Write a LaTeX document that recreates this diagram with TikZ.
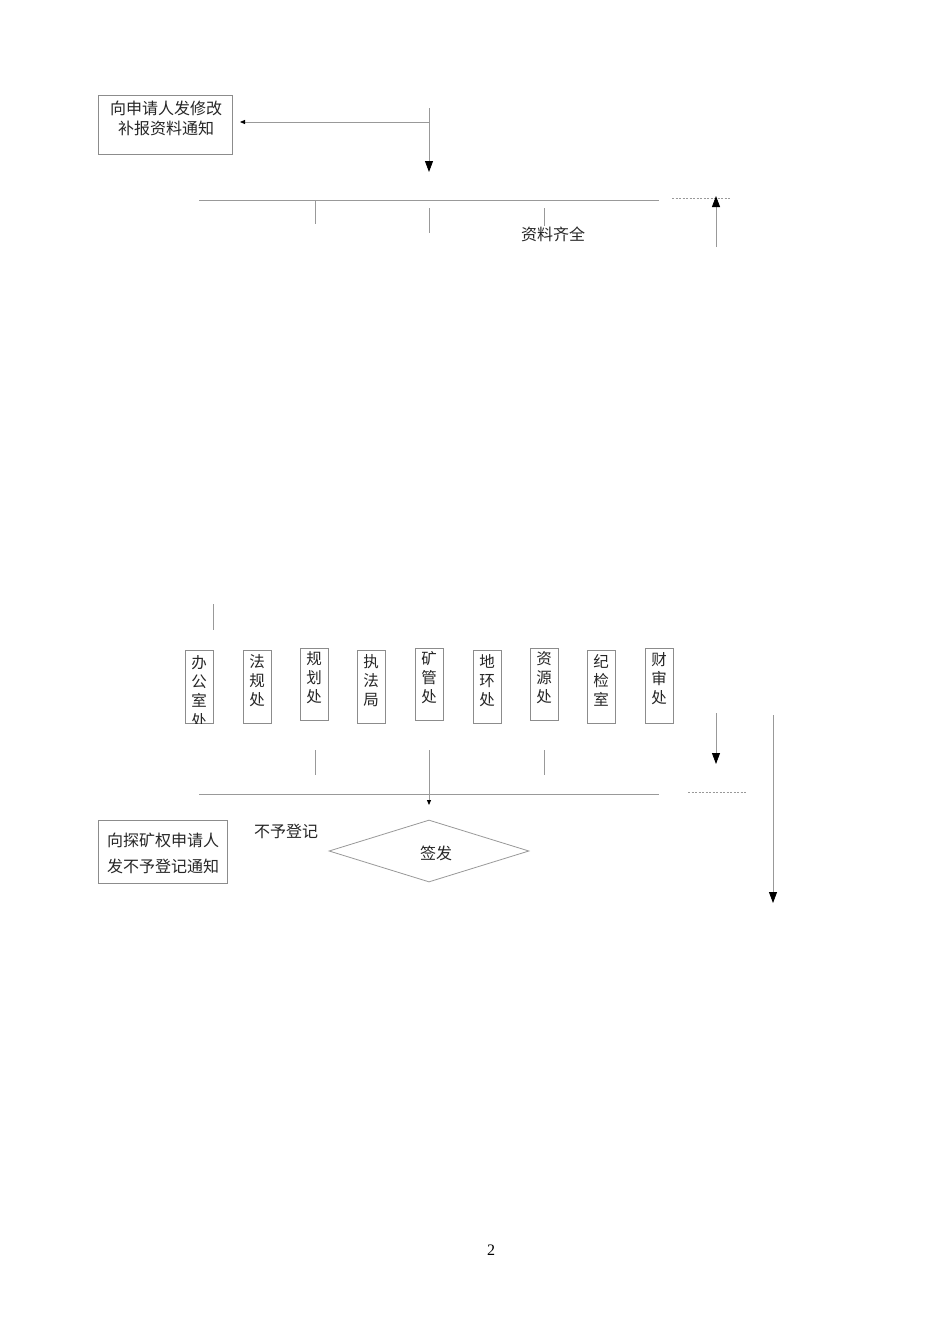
\documentclass[tikz,border=0pt]{standalone}
\usepackage{fontspec}
\setmainfont{Liberation Serif}
\newfontfamily\cjk{Noto Sans CJK SC}
\usetikzlibrary{arrows.meta,shapes.geometric}
\tikzset{
 ln/.style={draw=black!40, line width=0.8pt},
 frame/.style={draw=black!45, line width=0.8pt, inner sep=0pt},
 vbox/.style={frame, minimum width=28pt, minimum height=73pt, anchor=north west},
 vtxt/.style={font=\cjk\fontsize{15.5}{19.3}\selectfont, text=black!85, align=center, inner sep=0pt, anchor=north},
 lbl/.style={font=\cjk\fontsize{16}{20}\selectfont, text=black!85, inner sep=0pt, align=center},
 bigtip/.style={-{Triangle[length=11pt,width=8pt,color=black]}},
 smalltip/.style={-{Triangle[length=5pt,width=4pt,color=black]}},
 dots/.style={draw=black!40, line width=0.7pt, dash pattern=on 2pt off 1.5pt},
}
\begin{document}
\begin{tikzpicture}[x=1pt,y=-1pt]
\useasboundingbox (0,0) rectangle (950,1344);
\fill[white] (0,0) rectangle (950,1344);

% ---- top part ----
\node[frame, minimum width=134pt, minimum height=59pt, anchor=north west] (notice) at (98,95) {};
\node[lbl] (noticetxt) at (166,118.5) {向申请人发修改\\补报资料通知};
\coordinate (t0) at (429,108);
\coordinate (t1) at (429,122);
\coordinate (t2) at (429,172);
\coordinate (nb) at (240,122);
\draw[ln] (t0) -- (t1);
\draw[ln, smalltip] (t1) -- (nb);
\draw[ln, bigtip] (t1) -- (t2);

\coordinate (h1a) at (199,200);
\coordinate (h1b) at (659,200);
\draw[ln] (h1a) -- (h1b);
\coordinate (d1a) at (672,198);
\coordinate (d1b) at (731,198);
\draw[dots] (d1a) -- (d1b);
\coordinate (u1a) at (716,247);
\coordinate (u1b) at (716,196);
\draw[ln, bigtip] (u1a) -- (u1b);

\coordinate (k1a) at (315,200); \coordinate (k1b) at (315,224);
\coordinate (k2a) at (429,208); \coordinate (k2b) at (429,233);
\coordinate (k3a) at (544,208); \coordinate (k3b) at (544,226);
\draw[ln] (k1a) -- (k1b);
\draw[ln] (k2a) -- (k2b);
\draw[ln] (k3a) -- (k3b);
\node[lbl] (complete) at (553,234) {资料齐全};

% ---- middle part ----
\coordinate (m0a) at (213,604); \coordinate (m0b) at (213,630);
\draw[ln] (m0a) -- (m0b);

\node[vbox] (b1) at (185,650) {};
\begin{scope}
\clip (185,650) rectangle (213,723);
\node[vtxt] (b1t) at (199,655) {办\\公\\室\\处};
\end{scope}
\node[vbox] (b2) at (243,650) {};
\node[vtxt] (b2t) at (257,654) {法\\规\\处};
\node[vbox, minimum height=72pt] (b3) at (300,648) {};
\node[vtxt] (b3t) at (314,651) {规\\划\\处};
\node[vbox] (b4) at (357,650) {};
\node[vtxt] (b4t) at (371,654) {执\\法\\局};
\node[vbox, minimum height=72pt] (b5) at (415,648) {};
\node[vtxt] (b5t) at (429,651) {矿\\管\\处};
\node[vbox] (b6) at (473,650) {};
\node[vtxt] (b6t) at (487,654) {地\\环\\处};
\node[vbox, minimum height=72pt] (b7) at (530,648) {};
\node[vtxt] (b7t) at (544,651) {资\\源\\处};
\node[vbox] (b8) at (587,650) {};
\node[vtxt] (b8t) at (601,654) {纪\\检\\室};
\node[vbox, minimum height=75pt] (b9) at (645,648) {};
\node[vtxt] (b9t) at (659,652) {财\\审\\处};

\coordinate (a2a) at (716,713); \coordinate (a2b) at (716,764);
\draw[ln, bigtip] (a2a) -- (a2b);
\coordinate (a3a) at (773,715); \coordinate (a3b) at (773,903);
\draw[ln, bigtip] (a3a) -- (a3b);

\coordinate (k4a) at (315,750); \coordinate (k4b) at (315,775);
\coordinate (k6a) at (544,750); \coordinate (k6b) at (544,775);
\draw[ln] (k4a) -- (k4b);
\draw[ln] (k6a) -- (k6b);
\coordinate (k5a) at (429,750); \coordinate (k5b) at (429,805);
\draw[ln, smalltip] (k5a) -- (k5b);

\coordinate (h2a) at (199,794);
\coordinate (h2b) at (659,794);
\draw[ln] (h2a) -- (h2b);
\coordinate (d2a) at (688,792);
\coordinate (d2b) at (746,792);
\draw[dots] (d2a) -- (d2b);

\node[diamond, draw=black!40, line width=0.8pt, inner sep=0pt, minimum width=200pt, minimum height=62pt, shape aspect=3.2] (sign) at (429,851) {};
\node[lbl] (signtxt) at (436,853) {签发};
\node[lbl] (reject) at (286,831) {不予登记};

\node[frame, minimum width=129pt, minimum height=63pt, anchor=north west] (rbox) at (98,820) {};
\node[lbl, font=\cjk\fontsize{16}{26}\selectfont] (rboxtxt) at (163,853.5) {向探矿权申请人\\发不予登记通知};

% page number
\node[font=\fontsize{16}{19}\selectfont, inner sep=0pt] (pg) at (491,1250) {2};
\end{tikzpicture}
\end{document}
